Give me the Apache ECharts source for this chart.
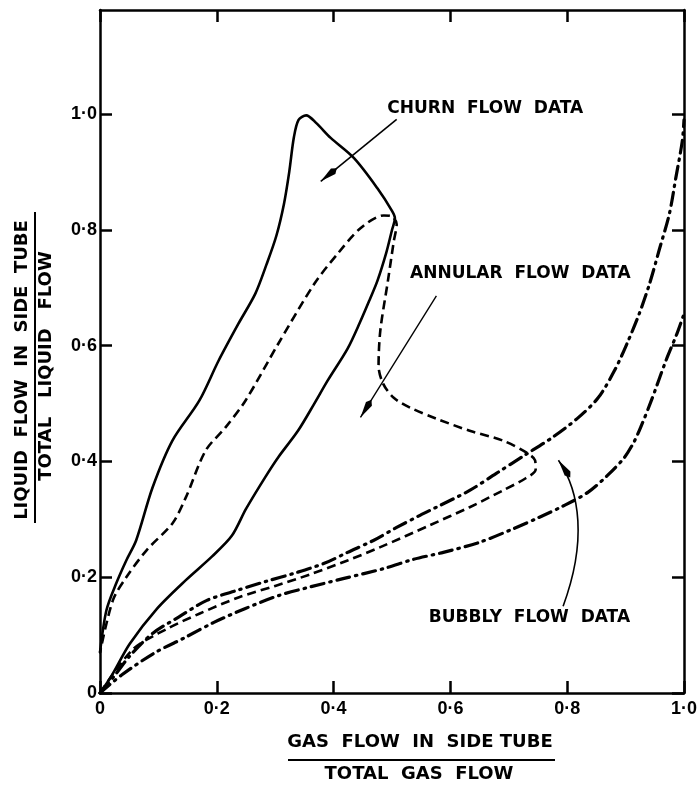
<!DOCTYPE html>
<html>
<head>
<meta charset="utf-8">
<script src="https://cdn.jsdelivr.net/npm/echarts@6/dist/echarts.min.js"></script>
<style>
html,body{margin:0;padding:0;background:#fff;}
#chart{width:700px;height:786px;}
</style>
</head>
<body>
<div id="chart"></div>
<script>
// ---- data (x = gas flow ratio, y = liquid flow ratio) ----
var xTicks = [0, 0.2, 0.4, 0.6, 0.8, 1.0];
var yTicks = [0, 0.2, 0.4, 0.6, 0.8, 1.0];

// Churn flow loop (solid)
var churnFlow = [
  [0,0],[0.02,0.03],[0.051,0.085],[0.097,0.145],[0.147,0.195],[0.192,0.236],
  [0.226,0.272],[0.25,0.318],[0.283,0.373],[0.305,0.407],[0.339,0.453],
  [0.367,0.5],[0.39,0.54],[0.424,0.595],[0.445,0.64],[0.462,0.68],[0.475,0.712],
  [0.49,0.76],[0.5,0.80],[0.505,0.82],[0.5,0.833],[0.475,0.872],[0.435,0.924],
  [0.395,0.959],[0.37,0.985],[0.353,0.998],[0.34,0.99],[0.332,0.96],
  [0.324,0.9],[0.315,0.845],[0.302,0.79],[0.285,0.74],[0.266,0.69],
  [0.237,0.638],[0.203,0.574],[0.17,0.505],[0.124,0.436],[0.09,0.355],
  [0.062,0.264],[0.045,0.229],[0.028,0.19],[0.011,0.143],[0,0.07]
];

// Annular flow loop (dashed)
var annularFlow = [
  [0,0],[0.056,0.075],[0.113,0.11],[0.17,0.137],[0.237,0.165],[0.3,0.185],
  [0.36,0.205],[0.424,0.229],[0.48,0.252],[0.565,0.29],[0.633,0.321],
  [0.69,0.35],[0.729,0.371],[0.746,0.386],[0.745,0.402],[0.729,0.416],
  [0.69,0.436],[0.633,0.453],[0.576,0.474],[0.531,0.493],[0.503,0.51],
  [0.485,0.534],[0.477,0.565],[0.48,0.626],[0.493,0.712],[0.503,0.78],
  [0.508,0.81],[0.499,0.824],[0.486,0.825],[0.446,0.803],[0.407,0.759],
  [0.367,0.707],[0.305,0.603],[0.249,0.505],[0.215,0.459],[0.181,0.419],
  [0.147,0.338],[0.124,0.293],[0.08,0.247],[0.045,0.2],[0.022,0.16],[0,0.07]
];

// Bubbly flow data, upper curve (dash-dot)
var bubblyUpper = [
  [0,0],[0.025,0.03],[0.051,0.064],[0.09,0.103],[0.136,0.132],[0.183,0.16],
  [0.237,0.178],[0.285,0.193],[0.333,0.207],[0.384,0.224],[0.424,0.243],
  [0.469,0.264],[0.508,0.286],[0.548,0.307],[0.576,0.321],[0.633,0.35],
  [0.678,0.379],[0.729,0.412],[0.774,0.441],[0.817,0.474],[0.853,0.51],
  [0.881,0.557],[0.903,0.605],[0.924,0.657],[0.941,0.707],[0.958,0.767],
  [0.975,0.828],[0.986,0.89],[0.997,0.953],[1.0,0.99]
];

// Bubbly flow data, lower curve (dash-dot)
var bubblyLower = [
  [0,0],[0.037,0.031],[0.093,0.069],[0.144,0.095],[0.195,0.122],[0.249,0.146],
  [0.308,0.169],[0.359,0.183],[0.418,0.198],[0.486,0.215],[0.537,0.231],
  [0.588,0.243],[0.649,0.26],[0.706,0.283],[0.751,0.303],[0.793,0.323],
  [0.836,0.347],[0.869,0.376],[0.898,0.407],[0.915,0.435],[0.927,0.462],
  [0.944,0.505],[0.969,0.574],[0.988,0.621],[1.0,0.655]
];

// annotation anchors (data coordinates)
var churnLabel = {text: 'CHURN  FLOW  DATA', pos: [0.492, 1.010]};
var churnArrow = {from: [0.508, 0.991], to: [0.378, 0.884]};
var annularLabel = {text: 'ANNULAR  FLOW  DATA', pos: [0.531, 0.724]};
var annularArrow = {from: [0.576, 0.686], to: [0.446, 0.476]};
var bubblyLabel = {text: 'BUBBLY  FLOW  DATA', pos: [0.563, 0.131]};
var bubblyArrow = {from: [0.793, 0.150], c1: [0.834, 0.262], c2: [0.822, 0.348], to: [0.785, 0.402]};

// ---- chart ----
var FONT = '"Liberation Sans", Arial, sans-serif';
var FONT2 = '"DejaVu Sans", sans-serif';
var chart = echarts.init(document.getElementById('chart'));
function fmt(v){ return v === 0 ? '0' : v.toFixed(1).replace('.', '\u00B7'); }

var axisLineStyle = {color:'#000', width:2.5};
var tickStyle = {color:'#000', width:2.5};

var dashDot = [13, 6, 1.5, 6];

function lineSeries(data, type, cap, width){
  return {
    type:'line', data:data, showSymbol:false, smooth:0.3, silent:true,
    lineStyle:{color:'#000', width:width, type:type, cap:cap, join:'round'},
    z: 5
  };
}

chart.setOption({
  animation:false,
  backgroundColor:'#fff',
  grid:{left:100, right:10, top:10, bottom:93},
  xAxis:[{
    type:'value', min:0, max:1, interval:0.2, position:'bottom',
    axisLine:{show:true, onZero:false, lineStyle:axisLineStyle},
    axisTick:{show:true, inside:true, length:12, lineStyle:tickStyle},
    splitLine:{show:false},
    axisLabel:{formatter:fmt, color:'#000', fontFamily:FONT, fontWeight:'bold', fontSize:18, margin:7}
  },{
    type:'value', min:0, max:1, interval:0.2, position:'top',
    axisLine:{show:true, onZero:false, lineStyle:axisLineStyle},
    axisTick:{show:true, inside:true, length:12, lineStyle:tickStyle},
    splitLine:{show:false}, axisLabel:{show:false}
  }],
  yAxis:[{
    type:'value', min:0, max:1.18, position:'left',
    axisLine:{show:true, onZero:false, lineStyle:axisLineStyle},
    axisTick:{show:true, inside:true, length:12, lineStyle:tickStyle, customValues:yTicks},
    splitLine:{show:false},
    axisLabel:{formatter:fmt, customValues:yTicks, color:'#000', fontFamily:FONT, fontWeight:'bold', fontSize:18, margin:3}
  },{
    type:'value', min:0, max:1.18, position:'right',
    axisLine:{show:true, onZero:false, lineStyle:axisLineStyle},
    axisTick:{show:true, inside:true, length:12, lineStyle:tickStyle, customValues:yTicks},
    splitLine:{show:false}, axisLabel:{show:false}
  }],
  series:[
    lineSeries(churnFlow, 'solid', 'round', 2.6),
    lineSeries(annularFlow, [9,5], 'butt', 2.6),
    lineSeries(bubblyUpper, dashDot, 'round', 3.2),
    lineSeries(bubblyLower, dashDot, 'round', 3.2)
  ]
});

function px(p){ return chart.convertToPixel({gridIndex:0}, p); }
function arrowHead(tip, from, len, half){
  var dx = from[0]-tip[0], dy = from[1]-tip[1];
  var L = Math.sqrt(dx*dx+dy*dy); dx/=L; dy/=L;
  var b = [tip[0]+dx*len, tip[1]+dy*len];
  var m = [tip[0]+dx*len*1.3, tip[1]+dy*len*1.3];
  return {type:'polygon', shape:{points:[tip,[b[0]-dy*half,b[1]+dx*half],m,[b[0]+dy*half,b[1]-dx*half]]}, style:{fill:'#000'}, z:10};
}
function label(l){
  var p = px(l.pos);
  return {type:'text', x:p[0], y:p[1], style:{text:l.text, font:'bold 17px '+FONT2, fill:'#000', align:'left', verticalAlign:'middle'}, z:10};
}

var g = [];
g.push(label(churnLabel), label(annularLabel), label(bubblyLabel));
var ca = px(churnArrow.from), ct = px(churnArrow.to);
g.push({type:'line', shape:{x1:ca[0],y1:ca[1],x2:ct[0],y2:ct[1]}, style:{stroke:'#000', lineWidth:1.6}, z:10});
g.push(arrowHead(ct, ca, 16, 3.5));
var aa = px(annularArrow.from), at = px(annularArrow.to);
g.push({type:'line', shape:{x1:aa[0],y1:aa[1],x2:at[0],y2:at[1]}, style:{stroke:'#000', lineWidth:1.4}, z:10});
g.push(arrowHead(at, aa, 16, 3.5));
var b0 = px(bubblyArrow.from), b1 = px(bubblyArrow.c1), b2 = px(bubblyArrow.c2), b3 = px(bubblyArrow.to);
g.push({type:'bezierCurve', shape:{x1:b0[0],y1:b0[1],cpx1:b1[0],cpy1:b1[1],cpx2:b2[0],cpy2:b2[1],x2:b3[0],y2:b3[1]}, style:{stroke:'#000', lineWidth:1.6, fill:null}, z:10});
g.push(arrowHead(b3, b2, 16, 3.5));

// axis titles (fractions)
g.push({type:'text', x:420, y:742, style:{text:'GAS  FLOW  IN  SIDE TUBE', font:'bold 18px '+FONT2, fill:'#000', align:'center', verticalAlign:'middle'}});
g.push({type:'line', shape:{x1:288,y1:760,x2:555,y2:760}, style:{stroke:'#000', lineWidth:2}});
g.push({type:'text', x:419, y:774, style:{text:'TOTAL  GAS  FLOW', font:'bold 18px '+FONT2, fill:'#000', align:'center', verticalAlign:'middle'}});
g.push({type:'text', x:22, y:370, rotation:Math.PI/2, style:{text:'LIQUID  FLOW  IN  SIDE  TUBE', font:'bold 18px '+FONT2, fill:'#000', align:'center', verticalAlign:'middle'}});
g.push({type:'line', shape:{x1:35,y1:212,x2:35,y2:523}, style:{stroke:'#000', lineWidth:2}});
g.push({type:'text', x:46, y:366, rotation:Math.PI/2, style:{text:'TOTAL   LIQUID   FLOW', font:'bold 18px '+FONT2, fill:'#000', align:'center', verticalAlign:'middle'}});

chart.setOption({graphic:{elements:g}});
</script>
</body>
</html>
